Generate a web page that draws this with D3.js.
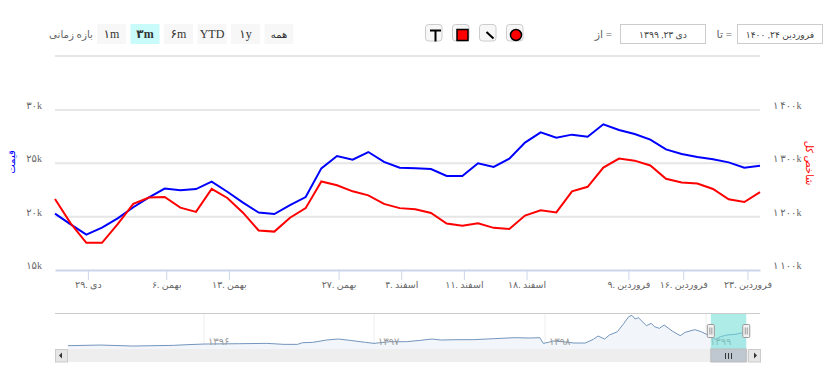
<!DOCTYPE html>
<html>
<head>
<meta charset="utf-8">
<script src="https://cdn.jsdelivr.net/npm/d3@7"></script>
<style>
body { margin: 0; background: #fff; }
svg { display: block; }
text { font-family: "Liberation Serif", "DejaVu Sans", serif; }
</style>
</head>
<body>
<div class="container"></div>
<script>
const WIDTH = 829;
const HEIGHT = 373;
const LEFT = 55;
const RIGHT = 760;
const TOP = 110;
const BOTTOM = 270;

// main chart data, one value per trading day
const priceValues = [20280, 19280, 18310, 18970, 19840, 20880, 21810, 22630, 22470, 22590,
    23280, 22340, 21310, 20380, 20250, 21090, 21840, 24530, 25690, 25340,
    26060, 25130, 24590, 24530, 24470, 23810, 23810, 25000, 24660, 25440,
    26940, 27910, 27410, 27690, 27500, 28660, 28130, 27750, 27220, 26310,
    25880, 25590, 25380, 25090, 24590, 24780];
const indexValues = [1233, 1187.5, 1151, 1151, 1186, 1224, 1236, 1237, 1217, 1209,
    1252, 1235, 1207.5, 1174, 1172, 1198, 1216, 1266, 1259, 1247.5,
    1240, 1224, 1216, 1214, 1207, 1187, 1183, 1187.5, 1179, 1177,
    1202, 1212, 1208, 1247.5, 1256, 1292, 1309, 1305, 1296, 1271,
    1264, 1262, 1252, 1232.5, 1227.5, 1246];

const xTickDays = [2.1, 7.1, 11.1, 18.1, 22.1, 26.1, 30.1, 36.6, 40.1, 44.2];
const xTickLabels = ['۲۹. دی', '۶. بهمن', '۱۳. بهمن', '۲۷. بهمن', '۴. اسفند', '۱۱. اسفند', '۱۸. اسفند', '۹. فروردین', '۱۶. فروردین', '۲۳. فروردین'];
const priceTicks = [15000, 20000, 25000, 30000];
const priceTickLabels = ['۱۵k', '۲۰k', '۲۵k', '۳۰k'];
const indexTicks = [1100, 1200, 1300, 1400];
const indexTickLabels = ['۱\u2009۱۰۰k', '۱\u2009۲۰۰k', '۱\u2009۳۰۰k', '۱\u2009۴۰۰k'];

// navigator data: position in years and price in thousands
const navYears = [1395.20, 1395.39, 1395.58, 1395.82, 1395.90, 1396.00, 1396.21, 1396.37, 1396.47, 1396.55,
    1396.58, 1396.64, 1396.72, 1396.79, 1396.86, 1396.95, 1397.00, 1397.09, 1397.19, 1397.27,
    1397.34, 1397.39, 1397.48, 1397.58, 1397.70, 1397.82, 1397.91, 1397.97, 1397.99, 1398.02,
    1398.05, 1398.11, 1398.18, 1398.25, 1398.30, 1398.33, 1398.37, 1398.40, 1398.45, 1398.49,
    1398.52, 1398.54, 1398.56, 1398.58, 1398.63, 1398.66, 1398.68, 1398.71, 1398.74, 1398.79,
    1398.84, 1398.87, 1398.93, 1398.97, 1399.02, 1399.06, 1399.09, 1399.13, 1399.18, 1399.23, 1399.25];
const navPrices = [9.2, 10, 8.8, 9.6, 10.4, 11.2, 11.6, 12, 10.8, 10.8,
    12.8, 13.2, 16, 17.2, 15.6, 13.2, 12, 14, 14, 15.6,
    17.2, 16, 16.4, 16.4, 17.6, 18.8, 18.4, 18.8, 12, 13.2,
    14.8, 14, 12.4, 12.4, 16.8, 20.8, 17.2, 22, 26, 36,
    44, 45.6, 41.2, 42.8, 33.2, 36, 32, 30, 34, 26.8,
    21.2, 25.2, 28.4, 26, 21.2, 16.8, 20, 22, 22.8, 24.8, 24.8];
const navYearTicks = [1396, 1397, 1398, 1399];
const navYearLabels = ['۱۳۹۶', '۱۳۹۷', '۱۳۹۸', '۱۳۹۹'];
const navSelection = [1399.03, 1399.25];

const rangeButtons = ['۱m', '۳m', '۶m', 'YTD', '۱y', 'همه'];
const selectedRange = '۳m';

const Translate = (x, y) => 'translate(' + x + ',' + y + ')';

var svg = d3.select('.container').append('svg')
    .attr('width', WIDTH)
    .attr('height', HEIGHT);

var xScale = d3.scaleLinear().domain([0, priceValues.length - 1]).range([LEFT, RIGHT]);
var priceScale = d3.scaleLinear().domain([15000, 30000]).range([BOTTOM, TOP]);
var indexScale = d3.scaleLinear().domain([1100, 1400]).range([BOTTOM, TOP]);

var navX = d3.scaleLinear()
    .domain([1395, 1396, 1397, 1398, 1399, 1400])
    .range([34, 204, 374, 545, 706, 867]);
var navY = d3.scaleLinear().domain([9.2, 46]).range([345.7, 315]);

var drawToolbar = function() {
    var bar = svg.append('g');

    bar.append('text').attr('x', 93).attr('y', 38)
        .attr('text-anchor', 'end').attr('font-size', 10.3).attr('fill', '#666')
        .text('بازه زمانی');

    var buttons = bar.selectAll('.btn').data(rangeButtons).enter().append('g')
        .attr('class', 'btn')
        .attr('transform', (d, i) => Translate(97 + i * 33.5, 24));
    buttons.append('rect')
        .attr('width', 29).attr('height', 20)
        .attr('fill', d => d === selectedRange ? '#c8fbfa' : '#f7f7f7');
    buttons.append('text')
        .attr('x', 14.5).attr('y', 14)
        .attr('text-anchor', 'middle').attr('fill', '#333')
        .attr('font-size', d => d === 'همه' ? 10 : 12)
        .attr('font-weight', d => d === selectedRange ? 'bold' : 'normal')
        .text(d => d);

    // drawing tools
    bar.selectAll('.tool').data([425, 452, 479, 506]).enter().append('rect')
        .attr('class', 'tool')
        .attr('x', d => d + 0.5).attr('y', 24.5)
        .attr('width', 16.5).attr('height', 16.5).attr('rx', 3)
        .attr('fill', '#f7f7f7').attr('stroke', '#ccc');
    bar.append('path').attr('d', 'M430 30.5H441M435.5 30.5V41.5')
        .attr('fill', 'none').attr('stroke', '#000').attr('stroke-width', 2);
    bar.append('rect').attr('x', 457).attr('y', 29.5).attr('width', 11).attr('height', 11)
        .attr('fill', '#f00').attr('stroke', '#000').attr('stroke-width', 1.5);
    bar.append('line').attr('x1', 486.5).attr('y1', 32).attr('x2', 493.5).attr('y2', 38.5)
        .attr('stroke', '#000').attr('stroke-width', 2);
    bar.append('circle').attr('cx', 516).attr('cy', 35).attr('r', 5.5)
        .attr('fill', '#f00').attr('stroke', '#000').attr('stroke-width', 1.5);

    // date range boxes
    var boxes = [
        {x: 620, label: 'دی ۲۳, ۱۳۹۹', side: 'از =', sx: 612},
        {x: 737, label: 'فروردین ۲۴, ۱۴۰۰', side: 'تا =', sx: 732}
    ];
    boxes.forEach(function(b) {
        bar.append('rect').attr('x', b.x + 0.5).attr('y', 24.5)
            .attr('width', 85).attr('height', 19)
            .attr('fill', '#fff').attr('stroke', '#ccc');
        bar.append('text').attr('x', b.x + 43).attr('y', 37.5)
            .attr('text-anchor', 'middle').attr('font-size', 9.2).attr('fill', '#444')
            .text(b.label);
        bar.append('text').attr('x', b.sx).attr('y', 38)
            .attr('text-anchor', 'end').attr('font-size', 11).attr('fill', '#666')
            .text(b.side);
    });

    bar.append('line').attr('x1', LEFT).attr('x2', RIGHT).attr('y1', 56).attr('y2', 56)
        .attr('stroke', '#e6e6e6').attr('stroke-width', 2);
};

var drawAxes = function() {
    var grid = svg.append('g');
    grid.selectAll('line').data(priceTicks.slice(1)).enter().append('line')
        .attr('x1', LEFT).attr('x2', RIGHT)
        .attr('y1', d => priceScale(d)).attr('y2', d => priceScale(d))
        .attr('stroke', '#e6e6e6').attr('stroke-width', 2);

    var xAxis = d3.axisBottom(xScale)
        .tickValues(xTickDays)
        .tickSize(10).tickSizeOuter(0)
        .tickFormat((d, i) => xTickLabels[i]);
    var xG = svg.append('g').attr('transform', Translate(0, BOTTOM)).call(xAxis);
    xG.select('.domain').attr('stroke', '#ccd6eb').attr('stroke-width', 2);
    xG.selectAll('.tick line').attr('stroke', '#ccd6eb');
    xG.selectAll('.tick text').attr('y', 18).attr('dy', 0)
        .attr('font-size', 9.5).attr('fill', '#666')
        .style('font-family', '"Liberation Serif", "DejaVu Sans", serif');

    var yLeft = d3.axisLeft(priceScale)
        .tickValues(priceTicks).tickSize(0)
        .tickFormat((d, i) => priceTickLabels[i]);
    var leftG = svg.append('g').attr('transform', Translate(42, 0)).call(yLeft);
    var yRight = d3.axisRight(indexScale)
        .tickValues(indexTicks).tickSize(0)
        .tickFormat((d, i) => indexTickLabels[i]);
    var rightG = svg.append('g').attr('transform', Translate(773, 0)).call(yRight);

    [leftG, rightG].forEach(function(g) {
        g.select('.domain').remove();
        g.selectAll('.tick text').attr('x', 0).attr('y', -1.5).attr('dy', 0)
            .attr('font-size', 10).attr('fill', '#666')
            .style('font-family', '"Liberation Serif", "DejaVu Sans", serif');
    });

    svg.append('text').attr('transform', Translate(15, 162) + ' rotate(-90)')
        .attr('text-anchor', 'middle').attr('font-size', 10).attr('fill', '#00f')
        .text('قیمت');
    svg.append('text').attr('transform', Translate(806, 163) + ' rotate(90)')
        .attr('text-anchor', 'middle').attr('font-size', 10).attr('fill', '#f00')
        .text('شاخص کل');
};

var drawSeries = function() {
    var priceLine = d3.line().x((d, i) => xScale(i)).y(d => priceScale(d));
    var indexLine = d3.line().x((d, i) => xScale(i)).y(d => indexScale(d));
    svg.append('path').attr('d', priceLine(priceValues))
        .attr('fill', 'none').attr('stroke', '#00f').attr('stroke-width', 2);
    svg.append('path').attr('d', indexLine(indexValues))
        .attr('fill', 'none').attr('stroke', '#f00').attr('stroke-width', 2);
};

var drawNavigator = function() {
    var nav = svg.append('g');
    var navTop = 313.5, navBottom = 349;
    var pairs = navYears.map((y, i) => [y, navPrices[i]]);

    nav.selectAll('.year').data(navYearTicks).enter().append('line')
        .attr('x1', d => navX(d)).attr('x2', d => navX(d))
        .attr('y1', navTop).attr('y2', navBottom)
        .attr('stroke', '#eee');

    var area = d3.area().x(d => navX(d[0])).y0(navBottom).y1(d => navY(d[1]));
    var line = d3.line().x(d => navX(d[0])).y(d => navY(d[1]));
    nav.append('path').attr('d', area(pairs)).attr('fill', '#f2f6fa');
    nav.append('path').attr('d', line(pairs))
        .attr('fill', 'none').attr('stroke', '#7395bd').attr('stroke-width', 1);

    nav.selectAll('.yearLabel').data(navYearTicks).enter().append('text')
        .attr('x', d => navX(d) + 4).attr('y', 345)
        .attr('font-size', 10).attr('fill', '#999')
        .text((d, i) => navYearLabels[i]);

    var selA = navX(navSelection[0]), selB = navX(navSelection[1]);
    nav.append('rect').attr('x', selA).attr('y', navTop)
        .attr('width', selB - selA).attr('height', navBottom - navTop)
        .attr('fill', '#6cdcd6').attr('opacity', 0.55);
    nav.append('line').attr('x1', LEFT).attr('x2', RIGHT).attr('y1', navTop).attr('y2', navTop)
        .attr('stroke', '#ccc');

    // scrollbar
    nav.append('rect').attr('x', LEFT).attr('y', navBottom)
        .attr('width', RIGHT - LEFT).attr('height', 13).attr('fill', '#eee');
    [LEFT, RIGHT - 12].forEach(function(x) {
        nav.append('rect').attr('x', x + 0.5).attr('y', navBottom + 0.5)
            .attr('width', 12).attr('height', 12.5)
            .attr('fill', '#e6e6e6').attr('stroke', '#ccc');
    });
    nav.append('path').attr('d', 'M59 355.5L62 352.5V358.5Z').attr('fill', '#333');
    nav.append('path').attr('d', 'M754 352.5L757 355.5L754 358.5Z').attr('fill', '#333');
    nav.append('rect').attr('x', selA).attr('y', navBottom)
        .attr('width', selB - selA).attr('height', 13)
        .attr('fill', '#bfc8d1').attr('stroke', '#bbb');
    nav.append('path')
        .attr('d', 'M' + ((selA + selB) / 2 - 3) + ' 353V359m3 -6V359m3 -6V359')
        .attr('stroke', '#333').attr('fill', 'none');

    // handles
    [selA, selB].forEach(function(x) {
        nav.append('rect').attr('x', x - 3.5).attr('y', 324.5)
            .attr('width', 7).attr('height', 13).attr('rx', 1)
            .attr('fill', '#f2f2f2').attr('stroke', '#999');
        nav.append('path')
            .attr('d', 'M' + (x - 1) + ' 327.5V334.5M' + (x + 1) + ' 327.5V334.5')
            .attr('stroke', '#999').attr('fill', 'none');
    });
};

drawToolbar();
drawAxes();
drawSeries();
drawNavigator();
</script>
</body>
</html>
